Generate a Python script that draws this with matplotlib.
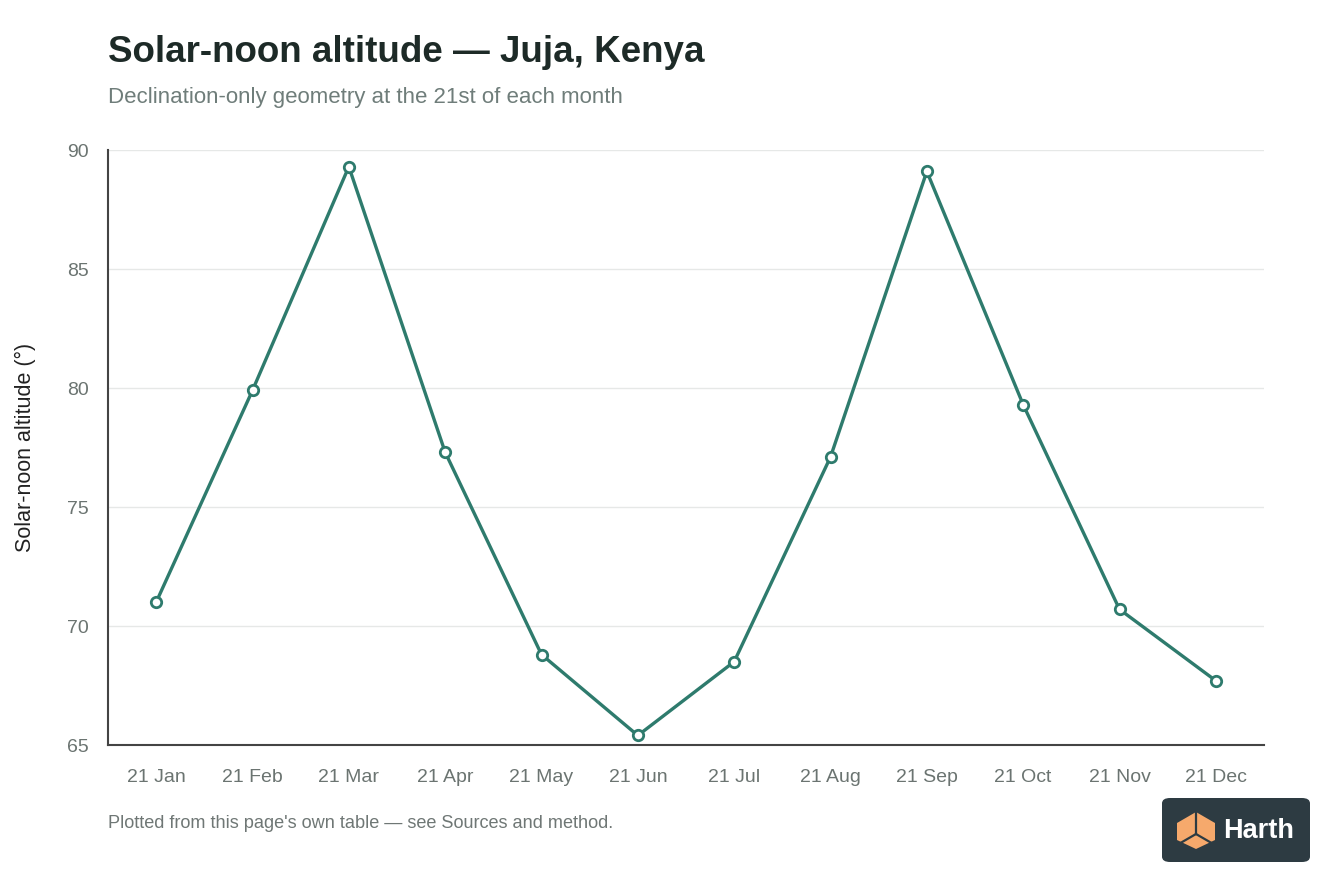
import matplotlib
matplotlib.use("Agg")
import matplotlib.pyplot as plt
from matplotlib.patches import FancyBboxPatch, Polygon

plt.rcParams['font.family'] = ['Liberation Sans', 'DejaVu Sans']

# data
months = ["21 Jan", "21 Feb", "21 Mar", "21 Apr", "21 May", "21 Jun",
          "21 Jul", "21 Aug", "21 Sep", "21 Oct", "21 Nov", "21 Dec"]
altitude = [71.0, 79.9, 89.3, 77.3, 68.8, 65.4, 68.5, 77.1, 89.1, 79.3, 70.7, 67.7]
yticks = [65, 70, 75, 80, 85, 90]

W, H = 1344, 896
fig = plt.figure(figsize=(W/100, H/100), dpi=100)
ax = fig.add_axes([108/W, 1 - 745/H, (1264-108)/W, (745-150)/H])

line_col = "#2e7b6d"
x = list(range(len(months)))
ax.plot(x, altitude, color=line_col, lw=2.4, marker="o", ms=7.5,
        mfc="white", mec=line_col, mew=2, zorder=3, clip_on=False)

ax.set_xlim(-0.5, len(months) - 0.5)
ax.set_ylim(65, 90)
ax.set_yticks(yticks)
ax.set_xticks(x)
ax.set_xticklabels(months)
ax.tick_params(length=0, labelsize=14, colors="#6b7471")
ax.tick_params(axis="x", pad=17)
ax.tick_params(axis="y", pad=14)
ax.grid(axis="y", color="#e6e8e7", lw=1)
ax.set_axisbelow(True)
for s in ["top", "right"]:
    ax.spines[s].set_visible(False)
for s in ["left", "bottom"]:
    ax.spines[s].set_color("#444444")
    ax.spines[s].set_linewidth(1.5)
ax.set_ylabel("Solar-noon altitude (°)", fontsize=15.5, color="#222222", labelpad=22)

fig.text(108/W, 1 - 53/H, "Solar-noon altitude — Juja, Kenya", fontsize=26.5,
         fontweight="bold", color="#1d2a27", va="center")
fig.text(108/W, 1 - 98/H, "Declination-only geometry at the 21st of each month",
         fontsize=16, color="#6f7d7a", va="center")
fig.text(108/W, 1 - 823/H, "Plotted from this page's own table — see Sources and method.",
         fontsize=13.1, color="#6f7775", va="center")

# logo badge
bx, by, bw, bh = 1162, 798, 148, 64
badge = FancyBboxPatch((bx/W, 1 - (by+bh)/H), bw/W, bh/H,
                       boxstyle="round,pad=0,rounding_size=0.006",
                       transform=fig.transFigure, fc="#2d3b42", ec="none")
fig.patches.append(badge)
cube = [(1177, 823), (1196, 812), (1215, 823), (1215, 840), (1196, 849), (1177, 840)]
fig.patches.append(Polygon([(px/W, 1 - py/H) for px, py in cube], closed=True,
                           transform=fig.transFigure, fc="#f6a96c", ec="none"))
for seg in [[(1196, 812), (1196, 834)], [(1196, 834), (1177, 845)], [(1196, 834), (1215, 845)]]:
    fig.lines.append(plt.Line2D([p[0]/W for p in seg], [1 - p[1]/H for p in seg],
                                transform=fig.transFigure, color="#2d3b42", lw=1.6))
fig.text(1223/W, 1 - 831/H, "Harth", fontsize=19.5, fontweight="bold",
         color="white", va="center")

fig.savefig("out.png", dpi=100, facecolor="white")
